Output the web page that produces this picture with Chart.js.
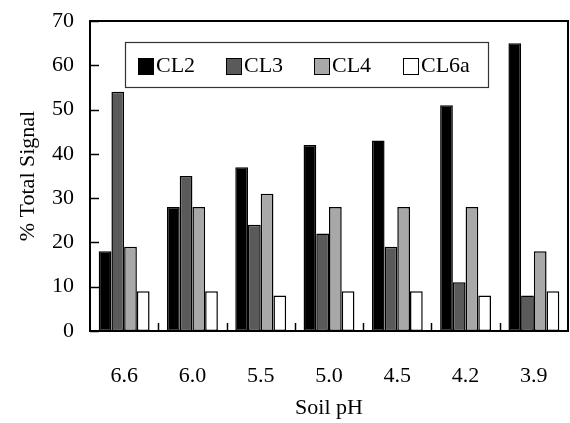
<!DOCTYPE html>
<html>
<head>
<meta charset="utf-8">
<script src="https://cdn.jsdelivr.net/npm/chart.js@4"></script>
<style>
html,body{margin:0;padding:0;background:#fff;}
#wrap{width:570px;height:423px;}
</style>
</head>
<body>
<div id="wrap"><canvas id="c" width="570" height="423"></canvas></div>
<script>
const categories = ["6.6", "6.0", "5.5", "5.0", "4.5", "4.2", "3.9"];
const seriesNames = ["CL2", "CL3", "CL4", "CL6a"];
const cl2 = [18, 28, 37, 42, 43, 51, 65];
const cl3 = [54, 35, 24, 22, 19, 11, 8];
const cl4 = [19, 28, 31, 28, 28, 28, 18];
const cl6a = [9, 9, 8, 9, 9, 8, 9];
const yTicks = [0, 10, 20, 30, 40, 50, 60, 70];
const colors = ["#000000", "#5a5a5a", "#a8a8a8", "#ffffff"];

const FONT = '"Liberation Serif", serif';

const framePlugin = {
  id: 'frame',
  afterDatasetsDraw(chart) {
    const {ctx, chartArea: a, scales} = chart;
    ctx.save();
    ctx.strokeStyle = '#000';
    ctx.lineWidth = 2;
    ctx.beginPath();
    ctx.moveTo(a.left, a.top);
    ctx.lineTo(a.right, a.top);
    ctx.lineTo(a.right, a.bottom);
    ctx.stroke();
    ctx.lineWidth = 1.5;
    yTicks.forEach(v => {
      const y = Math.round(scales.y.getPixelForValue(v)) + 0.5;
      ctx.beginPath();
      ctx.moveTo(a.left, y);
      ctx.lineTo(a.left + 9, y);
      ctx.stroke();
    });
    const n = categories.length;
    const w = (a.right - a.left) / n;
    for (let i = 1; i < n; i++) {
      const x = Math.round(a.left + i * w) + 0.5;
      ctx.beginPath();
      ctx.moveTo(x, a.bottom);
      ctx.lineTo(x, a.bottom - 8);
      ctx.stroke();
    }
    const lx = 125, ly = 42, lw = 363, lh = 45;
    ctx.fillStyle = '#fff';
    ctx.fillRect(lx, ly, lw, lh);
    ctx.strokeStyle = '#333';
    ctx.lineWidth = 1.2;
    ctx.strokeRect(lx + 0.5, ly + 0.5, lw, lh);
    const sq = [138, 226, 314, 403];
    ctx.font = "22px " + FONT;
    ctx.textBaseline = 'middle';
    ctx.textAlign = 'left';
    chart.data.datasets.forEach((ds, i) => {
      const sx = sq[i];
      ctx.fillStyle = ds.backgroundColor;
      ctx.fillRect(sx, 58, 15, 16);
      ctx.strokeStyle = '#000';
      ctx.lineWidth = 1;
      ctx.strokeRect(sx + 0.5, 58.5, 15, 16);
      ctx.fillStyle = '#000';
      ctx.fillText(ds.label, sx + 18, 66);
    });
    ctx.restore();
  }
};

new Chart(document.getElementById('c'), {
  type: 'bar',
  data: {
    labels: categories,
    datasets: [cl2, cl3, cl4, cl6a].map((d, i) => ({
      label: seriesNames[i],
      data: d,
      backgroundColor: colors[i],
      borderColor: '#000',
      borderWidth: 1.5,
      borderSkipped: false,
      categoryPercentage: 0.745,
      barPercentage: 1.0
    }))
  },
  options: {
    responsive: false,
    animation: false,
    layout: {padding: {top: 21, right: 2, left: 0, bottom: 0}},
    plugins: {legend: {display: false}, tooltip: {enabled: false}},
    scales: {
      x: {
        grid: {display: false, drawTicks: false},
        border: {display: true, color: '#000', width: 2},
        ticks: {color: '#000', font: {family: FONT, size: 22}, padding: 32, maxRotation: 0},
        title: {display: true, text: 'Soil pH', color: '#000', font: {family: FONT, size: 22}, padding: {top: 0, bottom: 2}},
        afterFit(s) { s.height = 92; s.paddingLeft = 0; s.paddingRight = 0; }
      },
      y: {
        min: 0, max: 70,
        grid: {display: false, drawTicks: false},
        border: {display: true, color: '#000', width: 2},
        ticks: {color: '#000', stepSize: 10, font: {family: FONT, size: 22}, padding: 16},
        title: {display: true, text: '% Total Signal', color: '#000', font: {family: FONT, size: 22}, padding: {top: 15, bottom: 0}},
        afterFit(s) { s.width = 90; s.paddingTop = 0; s.paddingBottom = 0; }
      }
    }
  },
  plugins: [framePlugin]
});
</script>
</body>
</html>
